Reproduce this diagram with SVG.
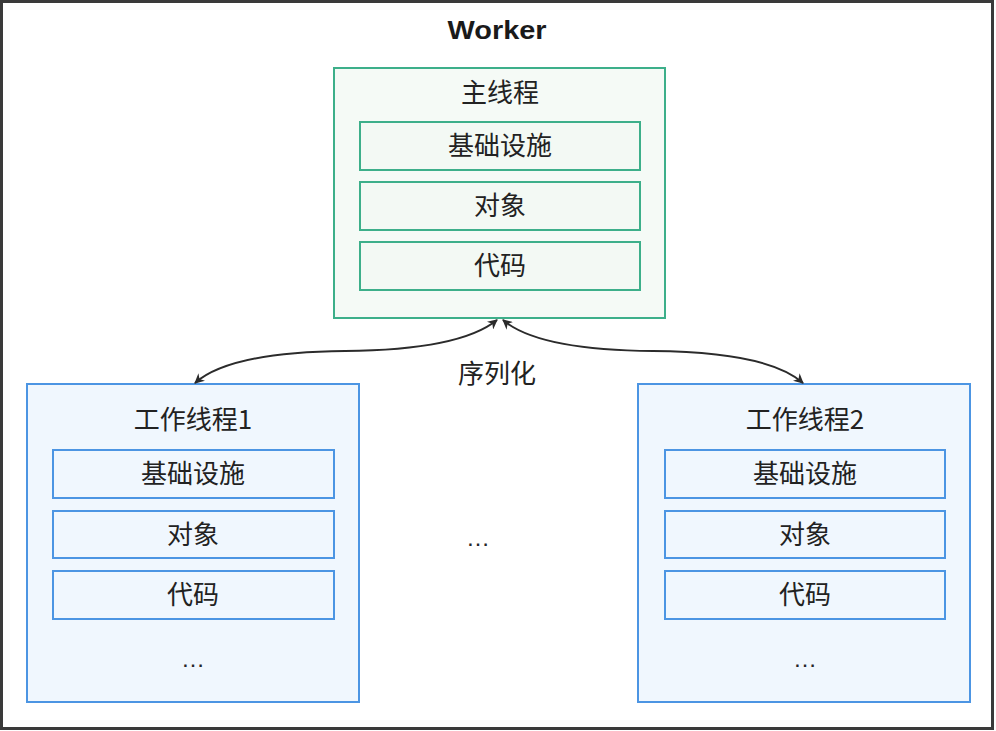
<svg xmlns="http://www.w3.org/2000/svg" width="996" height="731" viewBox="0 0 996 731">
<defs>
<style>
.cjk{font-family:"Noto Sans CJK SC","Noto Sans",sans-serif;font-size:26px;font-weight:400;fill:#222222;text-anchor:middle;dominant-baseline:central}
.dots{font-family:"Liberation Sans",sans-serif;font-size:24px;fill:#262626;text-anchor:middle}
.gOut{fill:#f5faf6;stroke:#3daf8a;stroke-width:2}
.gIn{fill:#f3f9f4;stroke:#3daf8a;stroke-width:2}
.bOut{fill:#f0f7fe;stroke:#4c95e3;stroke-width:2}
.bIn{fill:#f0f7fe;stroke:#4c95e3;stroke-width:2}
.conn{fill:none;stroke:#2b2b2b;stroke-width:2}
</style>
<marker id="ah" viewBox="0 0 10 10" refX="9" refY="5" markerWidth="11" markerHeight="10" markerUnits="userSpaceOnUse" orient="auto-start-reverse">
<path d="M0,0 L10,5 L0,10 L3,5 Z" fill="#2b2b2b"/>
</marker>
</defs>
<rect x="0" y="0" width="996" height="731" fill="#ffffff"/>
<rect x="1.5" y="1.5" width="991" height="727" fill="#ffffff" stroke="#3a3a3a" stroke-width="3"/>
<text x="497" y="39" font-family="Liberation Sans,sans-serif" font-weight="bold" font-size="26" fill="#1a1a1a" text-anchor="middle" textLength="99" lengthAdjust="spacingAndGlyphs">Worker</text>

<g id="main">
<rect class="gOut" x="334" y="68" width="331" height="250"/>
<text class="cjk" x="500" y="90">主线程</text>
<rect class="gIn" x="360" y="122" width="280" height="48"/>
<text class="cjk" x="500" y="143">基础设施</text>
<rect class="gIn" x="360" y="182" width="280" height="48"/>
<text class="cjk" x="500" y="203">对象</text>
<rect class="gIn" x="360" y="242" width="280" height="48"/>
<text class="cjk" x="500" y="263">代码</text>
</g>

<g id="worker1">
<rect class="bOut" x="27" y="384" width="332" height="318"/>
<text class="cjk" x="193" y="417">工作线程1</text>
<rect class="bIn" x="53" y="450" width="281" height="48"/>
<text class="cjk" x="193" y="471">基础设施</text>
<rect class="bIn" x="53" y="511" width="281" height="47"/>
<text class="cjk" x="193" y="532">对象</text>
<rect class="bIn" x="53" y="571" width="281" height="48"/>
<text class="cjk" x="193" y="592">代码</text>
<text class="dots" x="193" y="667">…</text>
</g>

<g id="worker2">
<rect class="bOut" x="638" y="384" width="332" height="318"/>
<text class="cjk" x="805" y="417">工作线程2</text>
<rect class="bIn" x="665" y="450" width="280" height="48"/>
<text class="cjk" x="805" y="471">基础设施</text>
<rect class="bIn" x="665" y="511" width="280" height="47"/>
<text class="cjk" x="805" y="532">对象</text>
<rect class="bIn" x="665" y="571" width="280" height="48"/>
<text class="cjk" x="805" y="592">代码</text>
<text class="dots" x="805" y="667">…</text>
</g>

<g id="middle">
<text class="cjk" x="497" y="371">序列化</text>
<text class="dots" x="478" y="546">…</text>
</g>

<g id="connectors">
<path class="conn" d="M195,383 Q230,352 345,351 T497,320" marker-start="url(#ah)" marker-end="url(#ah)"/>
<path class="conn" d="M803,383 Q768,352 653,351 T503,320" marker-start="url(#ah)" marker-end="url(#ah)"/>
</g>
</svg>
